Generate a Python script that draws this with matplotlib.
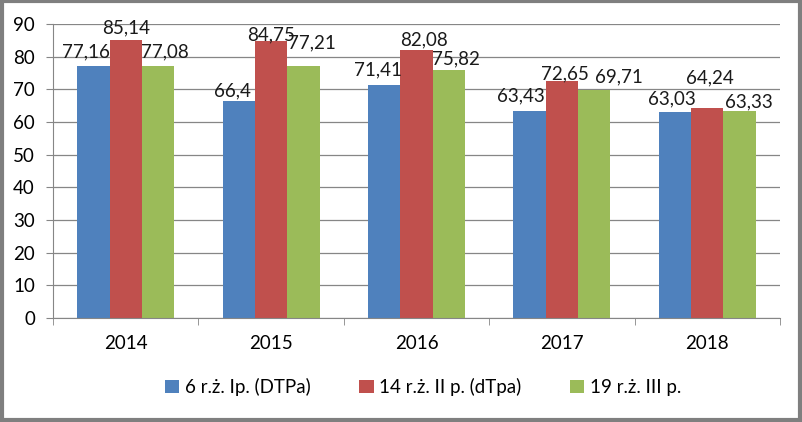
import matplotlib.pyplot as plt
import numpy as np
from matplotlib.patches import Rectangle

plt.rcParams['font.family'] = ['Lato', 'DejaVu Sans']

# The data
years = ['2014', '2015', '2016', '2017', '2018']
s6 = [77.16, 66.4, 71.41, 63.43, 63.03]
s14 = [85.14, 84.75, 82.08, 72.65, 64.24]
s19 = [77.08, 77.21, 75.82, 69.71, 63.33]
labels = ['6 r.ż. Ip. (DTPa)', '14 r.ż. II p. (dTpa)', '19 r.ż. III p.']
colors = ['#4F81BD', '#C0504D', '#9BBB59']

# label nudges (pixels) so the value labels don't collide, like Excel did
nudge = [
    [(-7, 6), (-6, 2), (-6, 6), (-9, 6), (-3, 5)],
    [(0, 4), (0, -2), (8, 1), (3, -2), (3, 22)],
    [(7, 6), (9, 14), (7, 3), (25, 5), (9, 1)],
]

fig = plt.figure(figsize=(8.03, 4.22), dpi=100)
ax = fig.add_axes([53 / 803, 104 / 422, 727 / 803, 294 / 422])

x = np.arange(len(years))
w = 0.222
for i, (vals, c, lab) in enumerate(zip([s6, s14, s19], colors, labels)):
    bars = ax.bar(x + (i - 1) * w, vals, w, color=c, label=lab, zorder=2)
    for j, (b, v) in enumerate(zip(bars, vals)):
        ax.annotate(('%g' % v).replace('.', ','),
                    (b.get_x() + b.get_width() / 2, v),
                    xytext=nudge[i][j], textcoords='offset pixels',
                    ha='center', va='bottom', fontsize=13.5, color='#1a1a1a',
                    zorder=3)

ax.set_xlim(-0.5, len(years) - 0.5)
ax.set_ylim(0, 90)
ax.set_yticks(range(0, 91, 10))
ax.set_xticks(x)
ax.set_xticklabels(years)
ax.set_xticks(np.arange(-0.5, len(years), 1), minor=True)
ax.tick_params(axis='x', which='major', length=0, pad=12, labelsize=13.5)
ax.tick_params(axis='x', which='minor', length=5, color='#868686')
ax.tick_params(axis='y', length=5, color='#868686', labelsize=13.5, pad=8)
ax.grid(axis='y', color='#868686', linewidth=0.9, zorder=0)
for s in ['top', 'right']:
    ax.spines[s].set_visible(False)
ax.spines['left'].set_color('#868686')
ax.spines['bottom'].set_color('#868686')

fig.legend(loc='center', bbox_to_anchor=(0.527, 35 / 422), ncol=3, frameon=False,
           fontsize=13.5, handlelength=0.75, handleheight=0.75,
           handletextpad=0.3, columnspacing=2.6)

# outer frame
fig.patches.append(Rectangle((0.002, 0.004), 0.994, 0.993, transform=fig.transFigure,
                             fill=False, edgecolor='#7f7f7f', linewidth=3))

fig.savefig('out.png', dpi=100)
